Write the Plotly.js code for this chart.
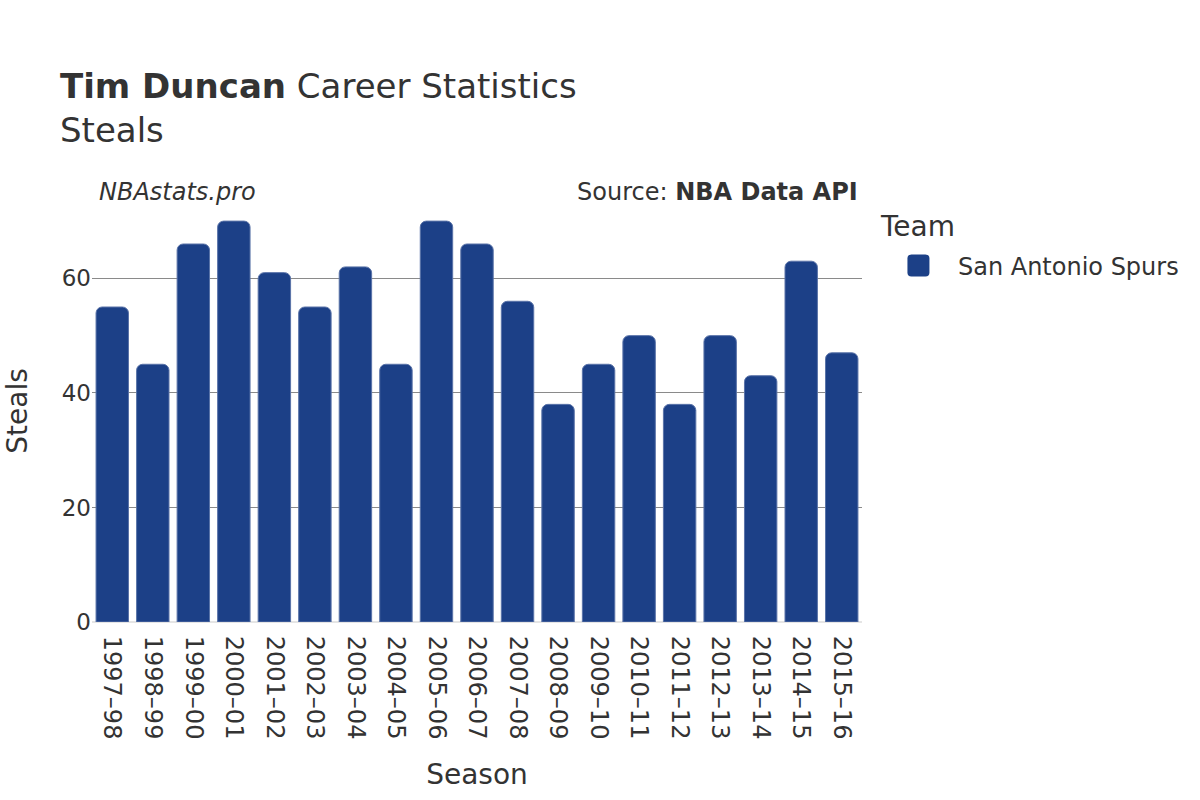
<!DOCTYPE html>
<html>
<head>
<meta charset="utf-8">
<script src="https://cdn.plot.ly/plotly-3.0.1.min.js"></script>
<style>body{margin:0;padding:0;background:#fff}#chart{width:1200px;height:800px}</style>
</head>
<body>
<div id="chart"></div>
<script>
const seasons = ["1997–98","1998–99","1999–00","2000–01","2001–02","2002–03","2003–04","2004–05","2005–06","2006–07","2007–08","2008–09","2009–10","2010–11","2011–12","2012–13","2013–14","2014–15","2015–16"];
const steals = [55,45,66,70,61,55,62,45,70,66,56,38,45,50,38,50,43,63,47];
const teamName = "San Antonio Spurs";
const barColor = "#1c4087";

const font = "DejaVu Sans, sans-serif";
const data = [{
  type: "bar",
  x: seasons,
  y: steals,
  name: teamName,
  marker: {color: barColor, line: {color: "#5a73a8", width: 1}, cornerradius: 6},
  showlegend: true
}];
const layout = {
  width: 1200, height: 800,
  margin: {l: 92, r: 338, t: 200, b: 178},
  paper_bgcolor: "#fff", plot_bgcolor: "#fff",
  font: {family: font, color: "#333", size: 22},
  title: {
    text: "<b>Tim Duncan</b> Career Statistics<br>Steals",
    x: 0.05, xanchor: "left", xref: "container",
    y: 0.878, yanchor: "top", yref: "container",
    font: {family: font, size: 34, color: "#333"}
  },
  bargap: 0.2,
  xaxis: {
    title: {text: "Season", font: {size: 28, color: "#333"}, standoff: 25},
    tickangle: 90,
    tickfont: {size: 24, color: "#333"},
    showgrid: false,
    ticks: "outside", ticklen: 8, tickcolor: "rgba(0,0,0,0)",
    automargin: false
  },
  yaxis: {
    title: {text: "Steals", font: {size: 28, color: "#333"}, standoff: 25},
    tickfont: {size: 23, color: "#333"},
    gridcolor: "#8a8a8a",
    gridwidth: 1,
    zeroline: true,
    zerolinecolor: "#e5e5e5",
    zerolinewidth: 2,
    tickvals: [0, 20, 40, 60],
    ticks: "",
    automargin: false
  },
  legend: {
    title: {text: "Team", font: {size: 28, color: "#333"}},
    x: 1.022, xanchor: "left", y: 1.0, yanchor: "top",
    font: {size: 24, color: "#333"},
    itemwidth: 69
  },
  annotations: [
    {text: "<i>NBAstats.pro</i>", xref: "paper", yref: "paper", x: 0.006, y: 0.98, xanchor: "left", yanchor: "bottom", showarrow: false, font: {size: 24, color: "#333"}},
    {text: "Source: <b>NBA Data API</b>", xref: "paper", yref: "paper", x: 0.998, y: 0.98, xanchor: "right", yanchor: "bottom", showarrow: false, font: {size: 24, color: "#333"}}
  ]
};
Plotly.newPlot("chart", data, layout, {displayModeBar: false, staticPlot: true}).then(function(gd){
  // enlarge the legend swatch to a rounded square like the reference
  const item = gd.querySelector('.legend .traces');
  if (!item) return;
  const sym = item.querySelector('.legendpoints path');
  if (sym) {
    sym.setAttribute('d', 'M-7,-11H7A4,4 0 0 1 11,-7V7A4,4 0 0 1 7,11H-7A4,4 0 0 1 -11,7V-7A4,4 0 0 1 -7,-11Z');
    sym.style.stroke = 'none';
  }
  const tr = item.getAttribute('transform') || '';
  const m = tr.match(/translate\(\s*([-\d.e]+)[ ,]+([-\d.e]+)\s*\)/);
  if (m) item.setAttribute('transform', 'translate(' + m[1] + ',' + (parseFloat(m[2]) + 7) + ')');
});
</script>
</body>
</html>
